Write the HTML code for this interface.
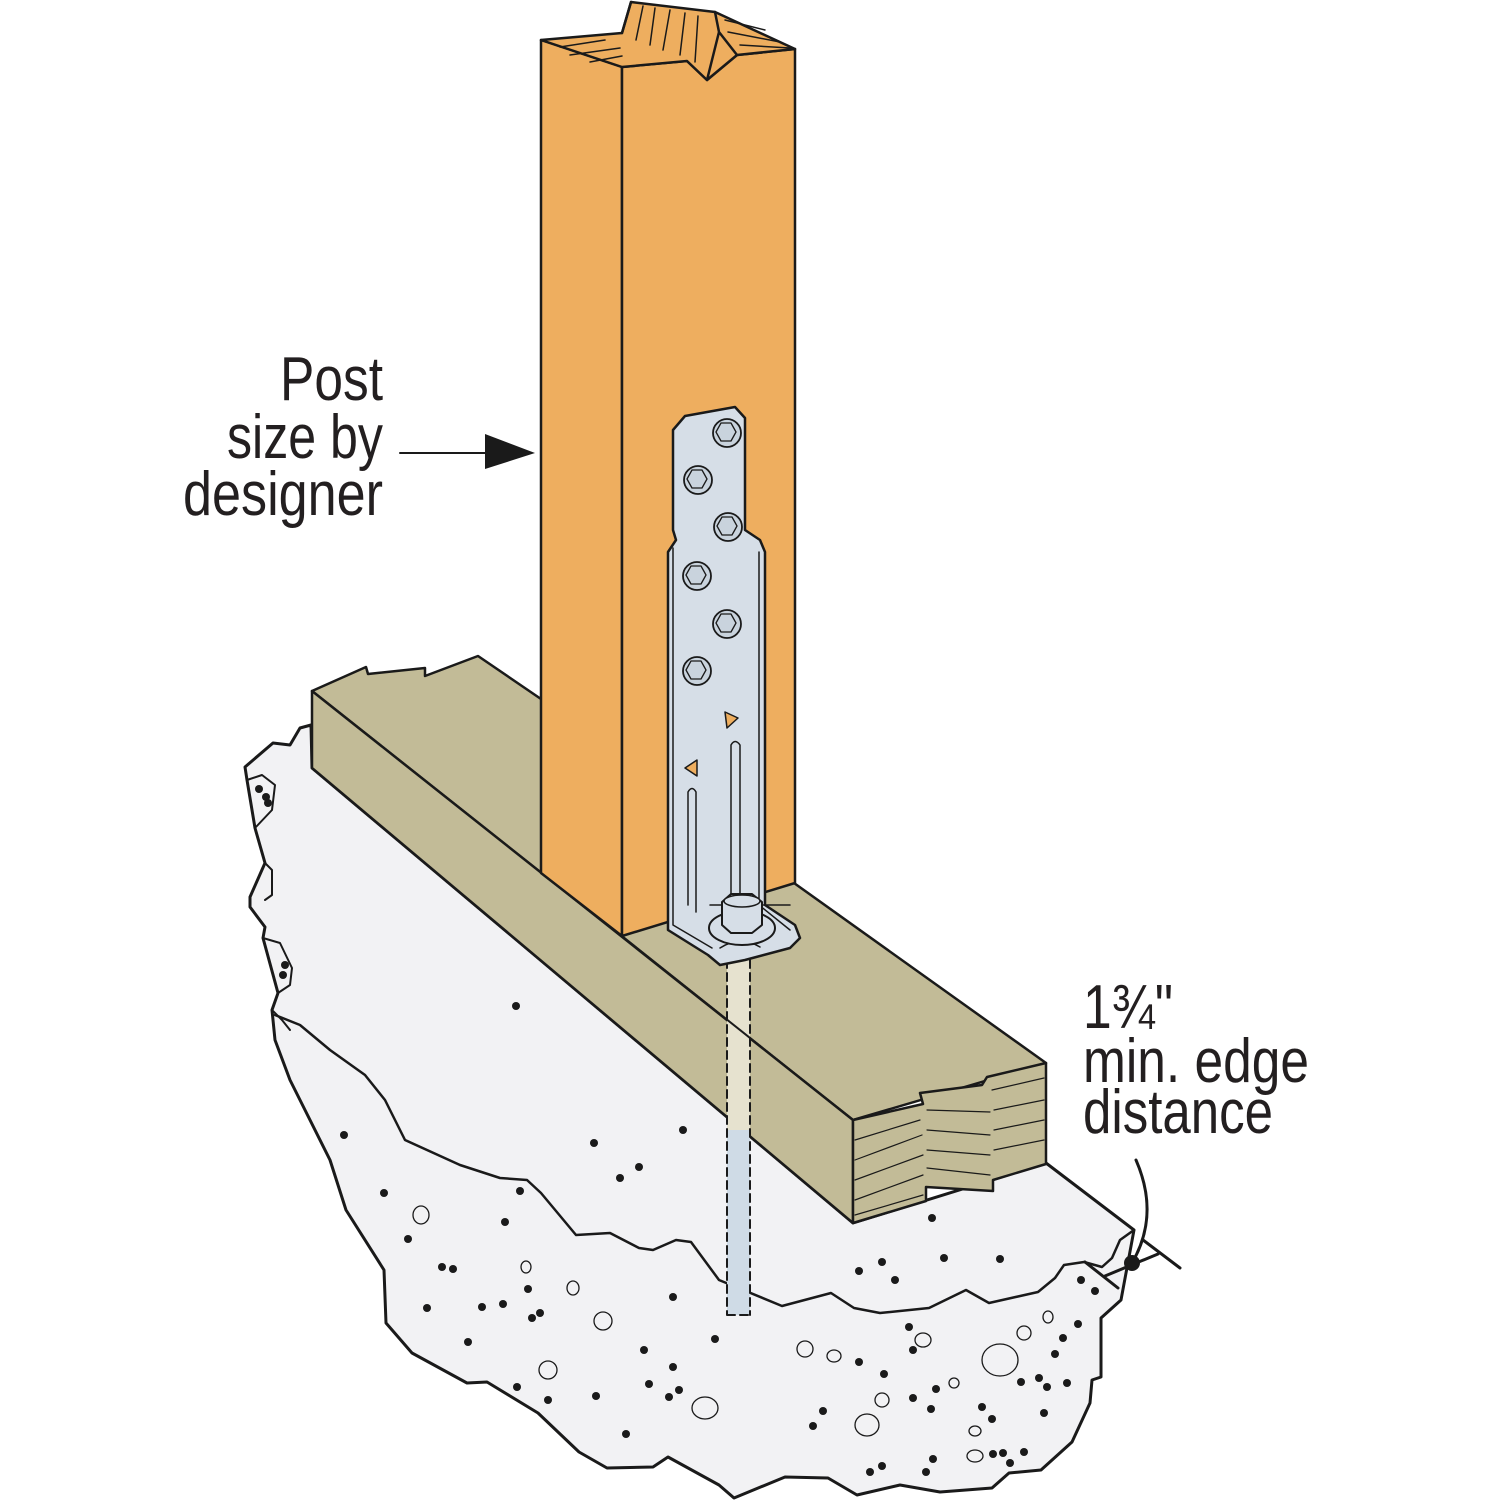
<!DOCTYPE html>
<html><head><meta charset="utf-8"><style>html,body{margin:0;padding:0;background:#fff}svg{display:block}</style></head>
<body>
<svg width="1500" height="1500" viewBox="0 0 1500 1500" xmlns="http://www.w3.org/2000/svg">
<g stroke="#1a1a1a" stroke-linejoin="round" stroke-linecap="round">
<!-- concrete -->
<path d="M311,725 L300,728 L290,745 L273,743 L245,767 L247,780 L255,828 L265,863 L250,897 L250,907 L265,927 L263,938 L278,993 L272,1010 L275,1040 L290,1080 L305,1110 L330,1160 L346,1210 L384,1270 L386,1323 L412,1353 L467,1383 L487,1382 L538,1413 L579,1452 L607,1468 L653,1467 L668,1457 L719,1485 L734,1498 L785,1477 L828,1478 L857,1495 L900,1485 L940,1492 L992,1488 L1009,1473 L1041,1470 L1072,1442 L1090,1403 L1092,1380 L1101,1377 L1101,1318 L1121,1300 L1134,1230 L1046,1163 L853,1223 L312,768 Z" fill="#f2f2f4" stroke-width="3"/>
<path d="M275,1015 L300,1025 L330,1050 L365,1075 L385,1100 L405,1140 L460,1165 L500,1178 L527,1180 L541,1193 L576,1235 L610,1233 L639,1248 L653,1250 L676,1240 L691,1242 L719,1280 L782,1306 L831,1293 L854,1308 L880,1313 L929,1308 L966,1290 L989,1303 L1038,1292 L1055,1278 L1064,1265 L1084,1262 L1102,1267 L1112,1258 L1120,1240 L1134,1230" fill="none" stroke-width="2.5"/>
<path d="M247,780 L262,775 L275,785 L272,810 L255,828 M265,863 L272,870 L272,895 L265,900 M263,938 L280,943 L292,968 L290,985 L278,993 M272,1010 L282,1020 L290,1030" fill="none" stroke-width="2"/>
<g fill="#1a1a1a" stroke="none">
<circle cx="259" cy="789" r="4"/><circle cx="266" cy="797" r="4"/><circle cx="268" cy="803" r="4"/>
<circle cx="285" cy="965" r="4"/><circle cx="283" cy="975" r="4"/>
<circle cx="516" cy="1006" r="4"/><circle cx="344" cy="1135" r="4"/><circle cx="594" cy="1143" r="4"/><circle cx="683" cy="1130" r="4"/><circle cx="639" cy="1167" r="4"/><circle cx="620" cy="1178" r="4"/>
<circle cx="384" cy="1193" r="4"/><circle cx="520" cy="1191" r="4"/><circle cx="505" cy="1222" r="4"/><circle cx="408" cy="1239" r="4"/><circle cx="442" cy="1267" r="4"/><circle cx="453" cy="1269" r="4"/><circle cx="528" cy="1289" r="4"/><circle cx="427" cy="1308" r="4"/><circle cx="482" cy="1307" r="4"/><circle cx="503" cy="1304" r="4"/><circle cx="540" cy="1313" r="4"/><circle cx="532" cy="1318" r="4"/><circle cx="468" cy="1342" r="4"/><circle cx="673" cy="1297" r="4"/><circle cx="715" cy="1339" r="4"/><circle cx="644" cy="1350" r="4"/><circle cx="673" cy="1367" r="4"/><circle cx="649" cy="1384" r="4"/><circle cx="679" cy="1390" r="4"/><circle cx="669" cy="1397" r="4"/><circle cx="596" cy="1396" r="4"/><circle cx="517" cy="1387" r="4"/><circle cx="548" cy="1400" r="4"/><circle cx="626" cy="1434" r="4"/><circle cx="932" cy="1218" r="4"/><circle cx="944" cy="1258" r="4"/><circle cx="1000" cy="1259" r="4"/><circle cx="882" cy="1262" r="4"/><circle cx="859" cy="1271" r="4"/><circle cx="895" cy="1280" r="4"/><circle cx="1081" cy="1280" r="4"/><circle cx="1095" cy="1291" r="4"/><circle cx="1078" cy="1324" r="4"/><circle cx="1063" cy="1338" r="4"/><circle cx="1055" cy="1354" r="4"/><circle cx="909" cy="1327" r="4"/><circle cx="913" cy="1350" r="4"/><circle cx="859" cy="1362" r="4"/><circle cx="884" cy="1374" r="4"/><circle cx="936" cy="1389" r="4"/><circle cx="913" cy="1398" r="4"/><circle cx="931" cy="1409" r="4"/><circle cx="823" cy="1411" r="4"/><circle cx="813" cy="1426" r="4"/><circle cx="982" cy="1407" r="4"/><circle cx="992" cy="1419" r="4"/><circle cx="1044" cy="1413" r="4"/><circle cx="1021" cy="1382" r="4"/><circle cx="1039" cy="1378" r="4"/><circle cx="1047" cy="1387" r="4"/><circle cx="1067" cy="1383" r="4"/><circle cx="933" cy="1459" r="4"/><circle cx="926" cy="1472" r="4"/><circle cx="882" cy="1466" r="4"/><circle cx="870" cy="1472" r="4"/><circle cx="993" cy="1454" r="4"/><circle cx="1003" cy="1453" r="4"/><circle cx="1010" cy="1463" r="4"/><circle cx="1024" cy="1452" r="4"/>
</g>
<g fill="none" stroke-width="1.3">
<ellipse cx="421" cy="1215" rx="8" ry="9"/><ellipse cx="526" cy="1267" rx="5" ry="6"/><ellipse cx="573" cy="1288" rx="6" ry="7"/><ellipse cx="603" cy="1321" rx="9" ry="9"/><ellipse cx="548" cy="1370" rx="9" ry="9"/><ellipse cx="705" cy="1408" rx="13" ry="11"/><ellipse cx="805" cy="1349" rx="8" ry="8"/><ellipse cx="834" cy="1356" rx="7" ry="6"/><ellipse cx="923" cy="1340" rx="8" ry="7"/><ellipse cx="882" cy="1400" rx="7" ry="7"/><ellipse cx="867" cy="1425" rx="12" ry="11"/><ellipse cx="954" cy="1383" rx="5" ry="5"/><ellipse cx="975" cy="1431" rx="6" ry="5"/><ellipse cx="975" cy="1456" rx="8" ry="6"/><ellipse cx="1000" cy="1360" rx="18" ry="16"/><ellipse cx="1024" cy="1333" rx="7" ry="7"/><ellipse cx="1048" cy="1317" rx="5" ry="6"/>
</g>
<!-- sill -->
<path d="M312,691 L366,667 L368,674 L425,668 L425,676 L478,656 L541,699 L794,883 L1046,1063 L853,1120 Z" fill="#c2bb97" stroke-width="2.5"/>
<path d="M312,691 L853,1120 L853,1223 L312,768 Z" fill="#c2bb97" stroke-width="2.5"/>
<path d="M853,1120 L923,1104 L920,1093 L982,1085 L987,1077 L1046,1063 L1046,1164 L993,1180 L993,1191 L926,1187 L926,1201 L853,1223 Z" fill="#c2bb97" stroke-width="2.5"/>
<path d="M855,1140 L920,1120 M855,1160 L922,1135 M855,1180 L923,1155 M855,1200 L923,1175 M855,1215 L923,1195 M927,1110 L990,1112 M927,1130 L990,1135 M927,1150 L990,1155 M927,1168 L990,1175 M992,1090 L1044,1078 M994,1110 L1044,1100 M994,1130 L1044,1120 M994,1150 L1044,1140" fill="none" stroke-width="1.2"/>
<!-- anchor rod -->
<rect x="727" y="960" width="23" height="170" fill="#e6e2cf" stroke="none"/>
<rect x="727" y="1130" width="23" height="185" fill="#cfdbe6" stroke="none"/>
<path d="M727,960 V1315 M750,960 V1315 M727,1315 H750" fill="none" stroke-width="2" stroke-dasharray="8,5"/>
<path d="M622,936 L853,1120" stroke-width="2"/>
<!-- post -->
<path d="M541,40 L622,67 L622,936 L541,873 Z" fill="#eeae5f" stroke-width="2.5"/>
<path d="M622,67 L687,61 L707,80 L737,55 L795,49 L795,883 L622,936 Z" fill="#eeae5f" stroke-width="2.5"/>
<path d="M541,40 L622,33 L631,2 L715,12 L795,49 L737,55 L707,80 L687,61 L622,67 Z" fill="#eeae5f" stroke-width="2.5"/>
<path d="M631,2 L622,33 M715,12 L719,32 L707,80 M719,32 L737,55" fill="none" stroke-width="2.5"/>
<path d="M643,6 L636,40 M655,8 L650,45 M670,10 L663,50 M685,13 L680,55 M698,16 L695,62 M560,47 L605,40 M570,55 L620,48 M590,62 L622,56 M725,20 L765,30 M728,32 L780,42 M740,45 L790,48" fill="none" stroke-width="1.5"/>
<!-- bracket -->
<path d="M673,430 L685,416 L735,407 L745,418 L745,530 L760,540 L765,552 L765,905 L795,925 L800,938 L790,948 L745,960 L720,965 L708,955 L668,930 L668,552 L676,540 L673,530 Z" fill="#d6dee7" stroke-width="2.5"/>
<path d="M673,548 L673,925 L712,948 M759,552 L759,905 L790,930 M688,792 Q692,785 696,792 L696,912 M688,792 L688,905 M731,745 Q735,738 740,745 L740,900 M731,745 L731,900 M710,905 L790,905 M720,948 Q740,935 760,947" fill="none" stroke-width="1.5"/>
<path d="M725,712 L738,718 L727,728 Z M697,760 L685,768 L697,776 Z" fill="#eeae5f" stroke-width="1.5"/>
<g fill="#c9d3dd" stroke-width="1.8">
<circle cx="727" cy="433" r="14"/><circle cx="698" cy="480" r="14"/><circle cx="728" cy="527" r="14"/><circle cx="697" cy="576" r="14"/><circle cx="727" cy="624" r="14"/><circle cx="697" cy="671" r="14"/>
</g>
<g fill="none" stroke-width="1.3">
<path d="M721,423 h10 l5,9 l-5,9 h-10 l-5,-9z M692,470 h10 l5,9 l-5,9 h-10 l-5,-9z M722,517 h10 l5,9 l-5,9 h-10 l-5,-9z M691,566 h10 l5,9 l-5,9 h-10 l-5,-9z M721,614 h10 l5,9 l-5,9 h-10 l-5,-9z M691,661 h10 l5,9 l-5,9 h-10 l-5,-9z"/>
</g>
<ellipse cx="742" cy="928" rx="33" ry="17" fill="#d6dee7" stroke-width="2"/>
<path d="M722,902 L731,894 L752,894 L762,902 L762,925 L752,933 L731,933 L722,925 Z" fill="#d6dee7" stroke-width="2"/>
<ellipse cx="742" cy="901" rx="18" ry="6" fill="#d6dee7" stroke-width="1.5"/>
<!-- left label arrow -->
<path d="M400,453 H487" stroke-width="2"/>
<path d="M485,434 L535,453 L485,469 Z" fill="#1a1a1a" stroke="none"/>
<!-- dimension -->
<path d="M1136,1160 Q1160,1215 1132,1263" fill="none" stroke-width="3"/>
<path d="M1085,1262 L1118,1288 M1143,1240 L1180,1268 M1105,1276 L1158,1254" stroke-width="3"/>
<circle cx="1132" cy="1263" r="8" fill="#1a1a1a" stroke="none"/>
</g>
<g font-family="'Liberation Sans Narrow','Liberation Sans',sans-serif" font-size="62" fill="#231f20">
<text x="280" y="400" textLength="103" lengthAdjust="spacingAndGlyphs">Post</text>
<text x="227" y="458" textLength="156" lengthAdjust="spacingAndGlyphs">size by</text>
<text x="183" y="515" textLength="200" lengthAdjust="spacingAndGlyphs">designer</text>
<text x="1083" y="1028" textLength="90" lengthAdjust="spacingAndGlyphs">1¾"</text>
<text x="1083" y="1082" textLength="226" lengthAdjust="spacingAndGlyphs">min. edge</text>
<text x="1083" y="1133" textLength="190" lengthAdjust="spacingAndGlyphs">distance</text>
</g>
</svg>
</body></html>
